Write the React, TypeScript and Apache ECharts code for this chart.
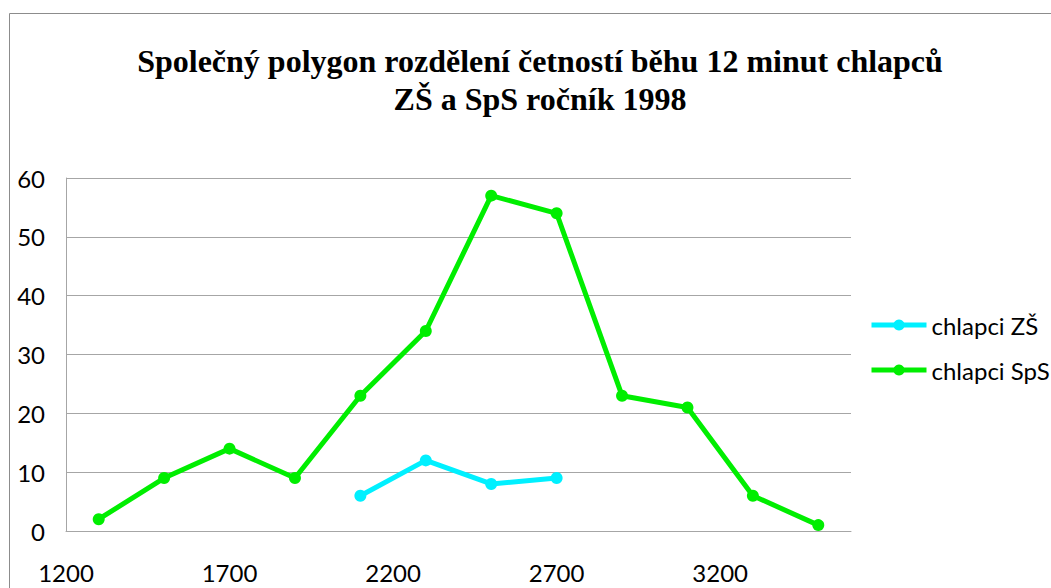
import React, { useEffect, useRef } from "react";
import * as echarts from "echarts";

const titleLines = ["Společný polygon rozdělení četností běhu 12 minut chlapců", "ZŠ a SpS ročník 1998"];
const seriesNames = ["chlapci ZŠ", "chlapci SpS"];
const xZS = [2100, 2300, 2500, 2700];
const yZS = [6, 12, 8, 9];
const xSpS = [1300, 1500, 1700, 1900, 2100, 2300, 2500, 2700, 2900, 3100, 3300, 3500];
const ySpS = [2, 9, 14, 9, 23, 34, 57, 54, 23, 21, 6, 1];
const xMin = 1200;
const xMax = 3600;
const xStep = 500;
const yMin = 0;
const yMax = 60;
const yStep = 10;
const colors = ["#00f0ff", "#00ee00"];

const labelFont = "Lato, 'Open Sans', sans-serif";

export default function App() {
  const ref = useRef<HTMLDivElement>(null);
  useEffect(() => {
    if (!ref.current) return;
    const chart = echarts.init(ref.current, null, { renderer: "svg" });
    const pairs = (xs: number[], ys: number[]) => xs.map((x, i) => [x, ys[i]]);
    chart.setOption({
      animation: false,
      backgroundColor: "#ffffff",
      title: {
        text: titleLines.join("\n"),
        left: 535,
        top: 37,
        textAlign: "center",
        textStyle: {
          fontFamily: "'Liberation Serif', 'Times New Roman', serif",
          fontWeight: "bold",
          fontSize: 32,
          lineHeight: 38,
          color: "#000000",
        },
      },
      graphic: [
        {
          type: "rect",
          shape: { x: 9.5, y: 13.5, width: 1200, height: 800 },
          style: { fill: "none", stroke: "#8c8c8c", lineWidth: 1 },
          silent: true,
        },
      ],
      legend: {
        orient: "vertical",
        left: 864,
        top: 308,
        padding: 5,
        itemWidth: 55,
        itemHeight: 14,
        itemGap: 21,
        lineStyle: { width: 5 },
        textStyle: { fontFamily: labelFont, fontSize: 24, color: "#000000" },
        data: seriesNames,
      },
      grid: { left: 66, right: 200, top: 178, bottom: 57, containLabel: false },
      xAxis: {
        type: "value",
        min: xMin,
        max: xMax,
        interval: xStep,
        axisLine: { show: true, lineStyle: { color: "#a6a6a6", width: 1 } },
        axisTick: { show: false },
        splitLine: { show: false },
        axisLabel: {
          margin: 29,
          fontFamily: labelFont,
          fontSize: 24,
          color: "#000000",
          showMaxLabel: false,
          formatter: (v: number) => (v > 3200 ? "" : String(v)),
        },
      },
      yAxis: {
        type: "value",
        min: yMin,
        max: yMax,
        interval: yStep,
        axisLine: { show: true, lineStyle: { color: "#a6a6a6", width: 1 } },
        axisTick: { show: false },
        splitLine: { show: true, lineStyle: { color: "#a6a6a6", width: 1 } },
        axisLabel: { margin: 21, fontFamily: labelFont, fontSize: 24, color: "#000000" },
      },
      series: [
        {
          name: seriesNames[0],
          type: "line",
          data: pairs(xZS, yZS),
          color: colors[0],
          symbol: "circle",
          symbolSize: 12,
          lineStyle: { width: 5, color: colors[0] },
          itemStyle: { color: colors[0] },
        },
        {
          name: seriesNames[1],
          type: "line",
          data: pairs(xSpS, ySpS),
          color: colors[1],
          symbol: "circle",
          symbolSize: 12,
          lineStyle: { width: 5, color: colors[1] },
          itemStyle: { color: colors[1] },
        },
      ],
    });
    return () => chart.dispose();
  }, []);
  return (
    <div
      ref={ref}
      style={{ position: "absolute", left: 0, top: 0, width: 1051, height: 588 }}
    />
  );
}
